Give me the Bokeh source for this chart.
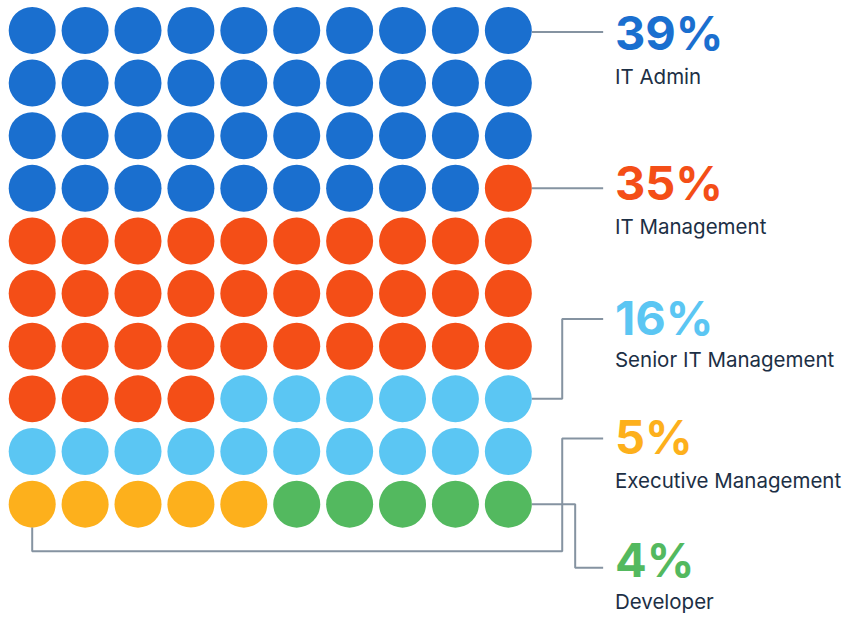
from bokeh.plotting import figure
from bokeh.models import Range1d, ColumnDataSource
from bokeh.core.properties import value
from bokeh.embed import file_html
from bokeh.resources import INLINE

# ---------------- data ----------------
categories = ["IT Admin", "IT Management", "Senior IT Management",
              "Executive Management", "Developer"]
percents = [39, 35, 16, 5, 4]
dot_counts = [39, 35, 16, 5, 5]          # dots drawn per category (10 x 10 grid)
colors = ["#1a6fcf", "#f44e17", "#5bc6f3", "#fdb01c", "#53b95f"]
n_cols = 10

# ---------------- layout (reference-pixel space) ----------------
W, H = 850, 617
REF_W, REF_H = 866, 633
col0, row0 = 32.3, 30.7                  # centre of first dot
pitch_x, pitch_y = 53.9, 54.0
dot_r = 24
dot_size = 47

p = figure(width=W, height=H, x_range=Range1d(0, REF_W), y_range=Range1d(REF_H, 0),
           output_backend="svg", toolbar_location=None, min_border=0)
p.axis.visible = False
p.grid.visible = False
p.outline_line_color = None
p.background_fill_color = "white"
p.border_fill_color = "white"


def cx(c):
    return col0 + pitch_x * c


def cy(r):
    return row0 + pitch_y * r


# dots
xs, ys, cs = [], [], []
idx = 0
for cnt, col in zip(dot_counts, colors):
    for _ in range(cnt):
        xs.append(cx(idx % n_cols))
        ys.append(cy(idx // n_cols))
        cs.append(col)
        idx += 1
p.scatter(x=xs, y=ys, size=dot_size, fill_color=cs, line_color=None, marker="circle")

# connectors
last = n_cols - 1
right = cx(last) + dot_r
end_x = 614
elbow = 572.3
elbow_dev = 585.5
conn_y = [cy(0) + 1.5, cy(3), 326.7, 449.3, 582]
bottom_y = 565
paths_x = [
    [right, end_x],
    [right, end_x],
    [right, elbow, elbow, end_x],
    [cx(0), cx(0), elbow, elbow, end_x],
    [right, elbow_dev, elbow_dev, end_x],
]
paths_y = [
    [conn_y[0], conn_y[0]],
    [cy(3), conn_y[1]],
    [cy(7), cy(7), conn_y[2], conn_y[2]],
    [cy(9) + dot_r, bottom_y, bottom_y, conn_y[3], conn_y[3]],
    [cy(9), cy(9), conn_y[4], conn_y[4]],
]
p.multi_line(xs=paths_x, ys=paths_y, line_color="#8593a1", line_width=2)

# labels
text_x = 626
pct_base = [51.5, 205.7, 343.3, 466, 591.5]
lab_base = [86, 240.7, 377.3, 500.7, 625]
pct_fix, lab_fix = 18.5, 8.5             # compensate renderer baseline placement
src = ColumnDataSource(dict(
    x=[text_x] * 5,
    y=[b - pct_fix for b in pct_base],
    t=[f"{v}%" for v in percents],
    c=colors,
    ly=[b - lab_fix for b in lab_base],
    lt=categories,
))
p.text(x="x", y="y", text="t", text_color="c", source=src,
       text_font=value("Inter"), text_font_size="47px",
       text_font_style="bold", text_baseline="alphabetic", text_align="left")
p.text(x="x", y="ly", text="lt", text_color="#1c2f45", source=src,
       text_font=value("Inter"), text_font_size="20.5px",
       text_baseline="alphabetic", text_align="left")

open("out.html", "w").write(file_html(p, INLINE))
